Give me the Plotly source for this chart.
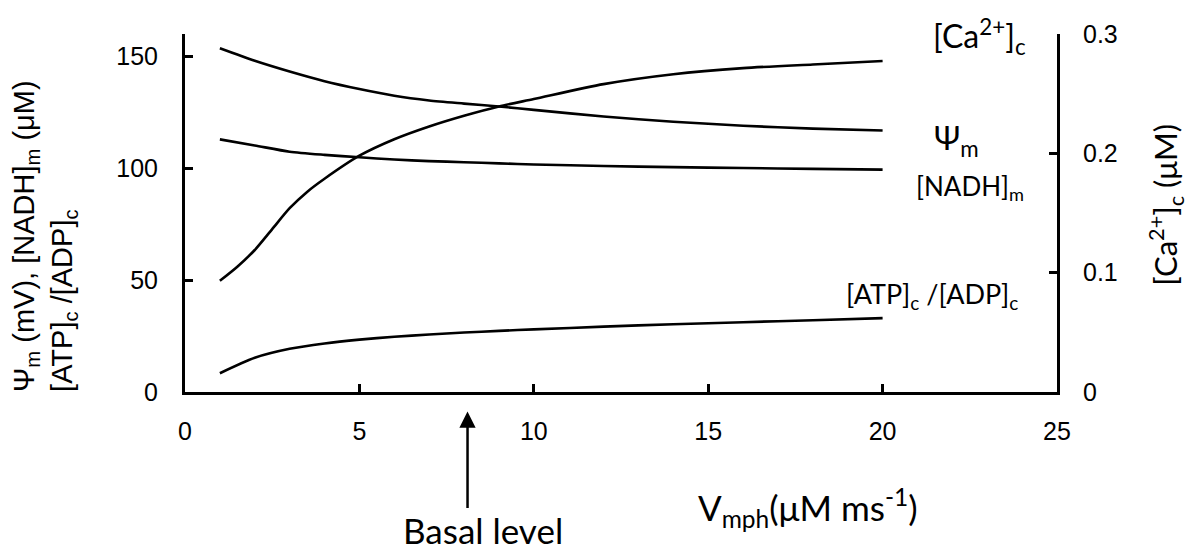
import plotly.graph_objects as go

# Data
v_mph = [1, 2, 3, 4, 5, 6, 7, 8, 9, 10, 12, 14, 16, 18, 20]
psi_m = [153.6, 148.0, 143.2, 138.9, 135.4, 132.4, 130.3, 128.9, 127.6, 126.1, 123.1, 120.8, 119.0, 117.7, 116.9]
nadh_m = [112.9, 110.2, 107.4, 106.0, 104.9, 103.9, 103.2, 102.7, 102.2, 101.7, 101.0, 100.5, 100.1, 99.7, 99.4]
atp_adp = [8.4, 15.3, 19.3, 21.7, 23.4, 24.7, 25.7, 26.6, 27.3, 28.0, 29.2, 30.3, 31.2, 32.1, 33.0]
v_mph_ca = [1, 1.5, 2, 2.5, 3, 3.5, 4, 5, 6, 7, 8, 9, 10, 12, 14, 16, 18, 20]
ca_c = [0.0932, 0.105, 0.119, 0.1365, 0.154, 0.1677, 0.1787, 0.198, 0.2118, 0.2225, 0.2315,
        0.2393, 0.2455, 0.258, 0.2663, 0.2714, 0.2745, 0.2774]

x_ticks = [0, 5, 10, 15, 20, 25]
y_ticks = [0, 50, 100, 150]
y2_ticks = [0, 0.1, 0.2, 0.3]
y2_ticktext = ["0", "0.1", "0.2", "0.3"]
basal_level = 8.1

# page body has an 8px margin; figure sized to fill the visible window
OFF = 8
W, H = 1200 - OFF, 547 - OFF
L, T = 185 - OFF, 25 - OFF
R = W - (1057 - OFF)
B = H - (392 - OFF)
PW, PH = W - L - R, H - T - B


def px(xp):
    return (xp - OFF - L) / PW


def py(yp):
    return (H - B - (yp - OFF)) / PH


line = dict(color="black", width=2.6, shape="spline", smoothing=0.7)
fig = go.Figure()
fig.add_trace(go.Scatter(x=v_mph, y=psi_m, mode="lines", line=line, showlegend=False))
fig.add_trace(go.Scatter(x=v_mph, y=nadh_m, mode="lines", line=line, showlegend=False))
fig.add_trace(go.Scatter(x=v_mph, y=atp_adp, mode="lines", line=line, showlegend=False))
fig.add_trace(go.Scatter(x=v_mph_ca, y=ca_c, mode="lines", line=line, yaxis="y2", showlegend=False))

arial = "Liberation Sans, Arial, sans-serif"
tickfont = dict(family=arial, size=25, color="black")
lab = "Lato, Carlito, Calibri, sans-serif"

axis_common = dict(showline=True, linecolor="black", linewidth=3, ticks="inside",
                   ticklen=8, tickwidth=2.5, tickcolor="black", showgrid=False,
                   zeroline=False, tickfont=tickfont)

fig.update_layout(
    width=W, height=H,
    margin=dict(l=L, r=R, t=T, b=B),
    paper_bgcolor="white", plot_bgcolor="white",
    font=dict(family=arial, size=25, color="black"),
    xaxis=dict(range=[0, 25], tickvals=x_ticks, ticklabelstandoff=15, **axis_common),
    yaxis=dict(range=[0, 160], tickvals=y_ticks, ticklabelstandoff=19, **axis_common),
    yaxis2=dict(range=[0, 0.3], tickvals=y2_ticks, ticktext=y2_ticktext, overlaying="y",
                side="right", anchor="x", ticklabelstandoff=18, **axis_common),
)

annotations = [
    dict(text="[Ca<sup>2+</sup>]<sub>c</sub>", x=px(1028), y=py(28), xanchor="right",
         yanchor="middle", font=dict(family=lab, size=32)),
    dict(text="Ψ<sub>m</sub>", x=px(956), y=py(134), xanchor="center", yanchor="middle",
         font=dict(family=lab, size=32)),
    dict(text="[NADH]<sub>m</sub>", x=px(970), y=py(182), xanchor="center", yanchor="middle",
         font=dict(family=lab, size=26)),
    dict(text="[ATP]<sub>c</sub> /[ADP]<sub>c</sub>", x=px(932), y=py(293), xanchor="center",
         yanchor="middle", font=dict(family=lab, size=27)),
    dict(text="Basal level", x=px(483), y=py(533), xanchor="center", yanchor="middle",
         font=dict(family=lab, size=35)),
    dict(text="V<sub>mph</sub>(μM ms<sup>-1</sup>)", x=px(808), y=py(510), xanchor="center",
         yanchor="middle", font=dict(family=lab, size=35)),
    dict(text="Ψ<sub>m</sub> (mV), [NADH]<sub>m</sub> (μM)<br>[ATP]<sub>c</sub> /[ADP]<sub>c</sub>",
         x=px(45), y=py(232), xanchor="center", yanchor="middle", textangle=-90, align="left",
         font=dict(family=arial, size=29)),
    dict(text="[Ca<sup>2+</sup>]<sub>c</sub> (μM)", x=px(1166), y=py(200), xanchor="center",
         yanchor="middle", textangle=-90, font=dict(family=lab, size=31)),
]
for a in annotations:
    a.update(xref="paper", yref="paper", showarrow=False)
    a["font"]["color"] = "black"
    fig.add_annotation(**a)

# Basal level arrow (head just below the x axis, tail 98 px lower)
fig.add_annotation(x=basal_level, xref="x", y=py(412), yref="paper", ax=0, ay=98,
                   axref="pixel", ayref="pixel", showarrow=True, arrowhead=2, arrowsize=1.3,
                   arrowwidth=2.5, arrowcolor="black", text="")

fig.write_html("out.html")
